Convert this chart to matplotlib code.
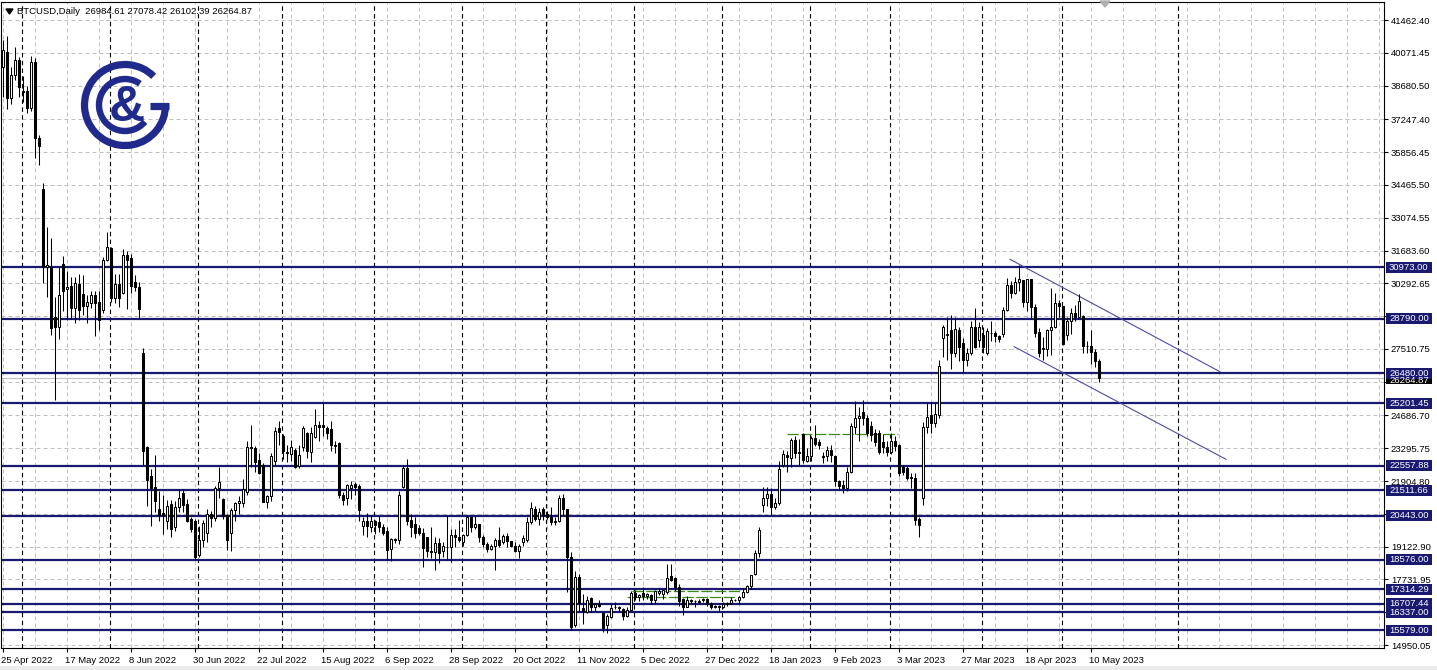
import numpy as np
import matplotlib.pyplot as plt
from matplotlib.patches import Rectangle, Arc, Polygon
from matplotlib import transforms

# ---- data (one line = one trading week, Mon..Fri) ----
opens = [
    39450, 40100, 38150, 39150, 39750,
    38450, 38450, 37750, 39700, 36450,
    34300, 31000, 31000, 28850, 28450,
    31100, 30050, 30200, 29250, 30250,
    29850, 29350, 29450, 29800, 29500,
    29150, 31300, 31800, 29650, 30250,
    29900, 31500, 31350, 30350, 30150,
    27350, 23350, 22100, 21650, 20700,
    20550, 20200, 20950, 19950, 20800,
    21400, 20950, 20300, 20200, 18750,
    19400, 19710, 20500, 20320, 21600,
    21130, 20460, 19690, 20680, 20960,
    20960, 21450, 23360, 23290, 22800,
    22590, 21030, 21250, 22770, 24140,
    23820, 23150, 23050, 23220, 22560,
    23360, 23960, 23150, 23790, 24280,
    24280, 24140, 24100, 23430, 23500,
    21310, 21170, 21600, 21780, 21690,
    20000, 20230, 19940, 20220, 20150,
    19940, 19800, 19010, 19400, 19400,
    21670, 22440, 20250, 20080, 19900,
    19720, 19540, 18950, 18910, 19260,
    18950, 19120, 19090, 19620, 19550,
    19300, 19620, 20390, 19970, 20080,
    19520, 19230, 19020, 19150, 19400,
    19330, 19560, 19350, 19130, 18950,
    19300, 19400, 20180, 20700, 20300,
    20700, 20500, 20400, 20170, 20220,
    21170, 20700, 18700, 15800, 17850,
    16500, 16370, 16930, 16580, 16680,
    16290, 15800, 16150, 16550, 16580,
    16480, 16200, 16440, 17140, 17000,
    17150, 17050, 17080, 16850, 17150,
    17130, 17210, 17870, 17800, 17420,
    16900, 16580, 16880, 16800, 16830,
    16850, 16900, 16700, 16580, 16620,
    16560, 16700, 16740, 16860, 16840,
    16980, 17200, 17440, 17950, 18850,
    20890, 21170, 21350, 20790, 20960,
    22590, 23010, 22870, 23650, 23130,
    23900, 22770, 22970, 23720, 23580,
    22970, 22970, 23220, 22970, 21920,
    21740, 21600, 22300, 24210, 24570,
    24850, 24570, 24240, 23930, 23930,
    23575, 23360, 23150, 23620, 23440,
    22490, 22440, 22090, 22020, 20280,
    21170, 24210, 24710, 24350, 24710,
    27960, 28100, 28310, 27320, 28310,
    27750, 27040, 27320, 28430, 27900,
    28100, 27350, 28170, 28180, 28040,
    28140, 29160, 30220, 29900, 30360,
    30430, 29510, 30460, 29300, 28240,
    27550, 27490, 28310, 28420, 29470,
    29340, 28090, 28680, 29030, 28850,
    28900, 27650, 27620, 27400, 26984.61,
]
highs = [
    40600, 40800, 39450, 40300, 39900,
    39100, 38650, 39950, 39850, 36600,
    34550, 32700, 32200, 29700, 31000,
    31450, 30800, 30550, 30550, 30700,
    30650, 29800, 29950, 29950, 29950,
    31400, 32450, 31850, 30700, 30700,
    31750, 31650, 31550, 30650, 30350,
    27550, 23400, 22400, 23000, 21500,
    21300, 21100, 21100, 21050, 21550,
    21550, 21150, 20400, 20300, 20000,
    20250, 20700, 20650, 21700, 22520,
    21200, 20500, 20780, 21000, 21250,
    22000, 23600, 24280, 23400, 23100,
    22650, 21300, 23100, 24200, 24450,
    23900, 23450, 23650, 23300, 23450,
    24250, 24000, 24200, 24950, 24450,
    25270, 24250, 24450, 23600, 23550,
    21450, 21800, 21900, 21850, 21800,
    20400, 20550, 20450, 20250, 20420,
    20100, 19970, 19500, 19500, 21500,
    22580, 22820, 20500, 20390, 20040,
    19900, 19540, 19940, 19540, 19470,
    19330, 20460, 19850, 19850, 20250,
    19650, 20460, 20400, 20430, 20100,
    19620, 19300, 19230, 19480, 19950,
    19660, 19700, 19380, 19320, 19250,
    19600, 20400, 21020, 20850, 20750,
    20800, 20650, 20800, 20400, 21300,
    21350, 20720, 18900, 18100, 17950,
    17100, 17050, 16980, 16750, 16850,
    16300, 16250, 16700, 16780, 16620,
    16500, 16550, 17250, 17300, 17100,
    17420, 17150, 17120, 17300, 17350,
    17250, 18390, 18390, 17850, 17530,
    16950, 17050, 16900, 16880, 16900,
    16950, 16960, 16780, 16660, 16650,
    16780, 16770, 16980, 16900, 17040,
    17380, 17490, 17930, 19000, 19950,
    21640, 21640, 21600, 21200, 22750,
    23240, 23200, 23720, 23800, 23700,
    23950, 23300, 23800, 24280, 23700,
    23150, 23400, 23450, 23000, 21950,
    21950, 22500, 24350, 25310, 25050,
    25340, 24700, 24450, 24100, 24050,
    23900, 23620, 23950, 23800, 23480,
    22600, 22550, 22250, 22250, 20400,
    24400, 25270, 25270, 25200, 27040,
    28530, 28880, 28950, 28880, 28450,
    27960, 27530, 28710, 29230, 28650,
    28450, 28400, 28700, 28250, 28100,
    29300, 30500, 30400, 30550, 31070,
    30450, 30480, 30480, 29400, 28400,
    28000, 28350, 30080, 29880, 29600,
    29350, 28880, 29260, 29360, 29840,
    28950, 27830, 28320, 27490, 27078.42,
]
lows = [
    38200, 37700, 37900, 38900, 38200,
    38000, 37500, 37600, 35600, 35300,
    30300, 29700, 28100, 25350, 27950,
    29100, 28750, 28800, 28600, 28750,
    28950, 28600, 29250, 28050, 28300,
    29050, 31250, 29500, 29450, 29300,
    29850, 29200, 29900, 29950, 28800,
    22600, 20850, 20000, 20600, 20200,
    19650, 19850, 19550, 19800, 20600,
    20600, 20150, 19750, 18600, 18700,
    19100, 19300, 19950, 20200, 21200,
    20300, 19000, 18950, 20200, 20500,
    20800, 21300, 22500, 22300, 22200,
    21000, 20750, 21050, 22600, 23450,
    22850, 22700, 22750, 22450, 22450,
    23200, 22900, 22700, 23750, 23600,
    23800, 23700, 23200, 23100, 21200,
    20900, 20900, 21150, 21300, 20200,
    19600, 19550, 19750, 19650, 19750,
    19600, 18560, 18530, 19260, 19230,
    21600, 20040, 19550, 19480, 19600,
    18270, 18700, 18630, 18130, 18410,
    18700, 18550, 18480, 19120, 19300,
    19150, 19580, 19760, 19870, 19320,
    19100, 18880, 18960, 18130, 19100,
    19250, 19100, 19090, 18900, 18660,
    19150, 19300, 20080, 20200, 20050,
    20250, 20300, 20050, 20050, 20150,
    20450, 17200, 15600, 15700, 16400,
    15820, 16300, 16350, 16400, 16550,
    15500, 15450, 16100, 16460, 16350,
    16000, 16150, 16420, 16850, 16800,
    16880, 16900, 16700, 16750, 17080,
    16900, 17100, 17680, 17250, 16600,
    16220, 16550, 16700, 16560, 16760,
    16780, 16600, 16460, 16500, 16340,
    16520, 16600, 16700, 16800, 16700,
    16950, 17150, 17320, 17900, 18700,
    20610, 20830, 20420, 20700, 20880,
    22500, 22300, 22500, 22900, 22600,
    22650, 22700, 22750, 23380, 23250,
    22650, 22750, 22700, 21700, 21550,
    21400, 21500, 22250, 23900, 23600,
    24300, 23800, 23600, 23400, 23050,
    23100, 22950, 23050, 23200, 22100,
    22150, 21950, 21600, 20050, 19550,
    20900, 23930, 23930, 24200, 24600,
    27180, 27040, 26640, 27150, 27000,
    26540, 26800, 27250, 27540, 27600,
    27350, 27250, 27850, 27790, 27790,
    28000, 29100, 29650, 29850, 29950,
    29300, 29100, 28800, 28000, 27150,
    27030, 27200, 27250, 28380, 28880,
    27680, 27880, 28130, 28680, 28810,
    27320, 27350, 26870, 26750, 26102.39,
]
closes = [
    40200, 38150, 39150, 39750, 38600,
    38400, 37750, 39700, 36450, 36100,
    31000, 31050, 28400, 28450, 29800,
    29950, 30150, 29250, 30300, 29150,
    29350, 29500, 29800, 29450, 28750,
    31300, 31850, 29650, 30250, 29650,
    31500, 31300, 30200, 30150, 29200,
    23200, 21950, 21600, 21050, 20450,
    20450, 20850, 19850, 20800, 21200,
    20900, 20200, 19850, 18700, 19400,
    20110, 20500, 20320, 21600, 21880,
    20420, 19400, 20680, 20960, 21050,
    21550, 23360, 23290, 22730, 22230,
    21000, 21250, 22950, 24040, 24000,
    23190, 23080, 23360, 22520, 23010,
    24140, 23190, 23930, 24280, 24210,
    24180, 23930, 23430, 23390, 21310,
    21100, 21740, 21740, 21670, 20680,
    20230, 20000, 20220, 20040, 19950,
    19690, 18980, 19430, 19450, 21310,
    22440, 20220, 19940, 19690, 19720,
    19050, 18950, 18900, 19290, 18840,
    19150, 19100, 19620, 19520, 19400,
    19620, 20390, 19970, 20100, 19540,
    19230, 19020, 19150, 19400, 19180,
    19560, 19350, 19130, 18950, 19150,
    19480, 20180, 20750, 20300, 20600,
    20450, 20400, 20170, 20220, 21170,
    20700, 18700, 15720, 17850, 16720,
    16400, 16880, 16580, 16680, 16620,
    15660, 16180, 16500, 16580, 16500,
    16200, 16450, 17140, 17000, 17080,
    17050, 17100, 16850, 17230, 17220,
    17270, 17780, 17700, 17400, 16830,
    16580, 16880, 16800, 16830, 16790,
    16900, 16700, 16550, 16620, 16560,
    16700, 16720, 16860, 16840, 16970,
    17200, 17440, 17900, 18850, 19830,
    21170, 21350, 20790, 20960, 22400,
    23050, 22910, 23650, 23080, 23100,
    22800, 22970, 23720, 23480, 23430,
    22910, 23220, 23010, 21920, 21690,
    21600, 22300, 24240, 24570, 24680,
    24570, 23930, 23860, 23580, 23150,
    23360, 23150, 23620, 23390, 22260,
    22300, 22020, 22020, 20250, 20040,
    24180, 24640, 24350, 24750, 26790,
    28450, 28150, 27320, 28340, 27600,
    27040, 27320, 28430, 27600, 28430,
    27580, 28270, 28180, 28040, 27930,
    29160, 30220, 29900, 30360, 30470,
    29510, 30460, 29300, 28200, 27320,
    27500, 28310, 28420, 29470, 29340,
    27700, 28680, 29030, 28850, 29530,
    27650, 27620, 27400, 26980, 26264.87,
]

# bar index of date labels on the time axis
date_ticks = [0, 16, 32, 48, 64, 80, 96, 112, 128, 144, 160, 176, 192, 208, 224, 240, 256, 272]
date_labels = ["25 Apr 2022", "17 May 2022", "8 Jun 2022", "30 Jun 2022", "22 Jul 2022",
               "15 Aug 2022", "6 Sep 2022", "28 Sep 2022", "20 Oct 2022", "11 Nov 2022",
               "5 Dec 2022", "27 Dec 2022", "18 Jan 2023", "9 Feb 2023", "3 Mar 2023",
               "27 Mar 2023", "18 Apr 2023", "10 May 2023"]
# first bar of each month (period separators)
month_starts = [5, 27, 49, 70, 93, 115, 136, 158, 180, 202, 222, 245, 265, 294]

# price scale: grid levels; the ones hidden behind level boxes get no label
price_ticks = [41462.40, 40071.45, 38680.50, 37247.40, 35856.45, 34465.50, 33074.55,
               31683.60, 30292.65, 28901.70, 27510.75, 26119.80, 24686.70, 23295.75,
               21904.80, 20513.85, 19122.90, 17731.95, 16341.00, 14950.05]
hidden_ticks = [28901.70, 26119.80, 20513.85, 16341.00]

levels = [30973.00, 28790.00, 26480.00, 25201.45, 22557.88, 21511.66, 20443.00,
          18576.00, 17314.29, 16707.44, 16337.00, 15579.00]

# trend channel (bar index, price)
upper_x, upper_y = [251.75, 304.25], [31311, 26543]
lower_x, lower_y = [252.8, 305.75], [27604, 22827]
# short green dashed lines: (start bar, end bar, price)
green_lines = [(196, 223.75, 23900), (157.25, 184.25, 17240), (156, 183.5, 16986)]

NAVY = '#191970'
LOGO = '#1f2a8c'
FONT = 'Liberation Sans'
FS = 6.8

W, H = 1437, 670
opens, highs, lows, closes = map(np.array, (opens, highs, lows, closes))
x = np.arange(len(closes))

fig = plt.figure(figsize=(W / 100, H / 100), dpi=100)
ax_l, ax_r, ax_t, ax_b = 1, 1384, 2, 648
ax = fig.add_axes([ax_l / W, 1 - ax_b / H, (ax_r - ax_l) / W, (ax_b - ax_t) / H])
ax.set_xlim(-0.5, (ax_r - 3) / 4)
ymin, ymax = 14823, 42226
ax.set_ylim(ymin, ymax)
ppx = (ymax - ymin) / (ax_b - ax_t)  # price per pixel

# grid
for gx in np.arange(0, 346, 8):
    ax.axvline(gx, color='#c0c0c0', lw=0.72, ls=(0, (4, 3)), zorder=0)
for gy in price_ticks:
    ax.axhline(gy, color='#c0c0c0', lw=0.72, ls=(0, (4, 3)), zorder=0)
for m in month_starts:
    ax.axvline(m - 0.25, color='black', lw=0.8, ls=(0, (4, 3)), zorder=1)

# support / resistance levels
for lv in levels:
    ax.axhline(lv, color=NAVY, lw=1.6, zorder=2)
ax.axhline(closes[-1], color='#c0c0c0', lw=0.8, zorder=2)

for gx0, gx1, gp in green_lines:
    ax.plot([gx0, gx1], [gp, gp], color='#3c8c14', lw=0.9, ls=(0, (9, 2)), zorder=2)

ax.plot(upper_x, upper_y, color='#4c4ca8', lw=0.8, zorder=2)
ax.plot(lower_x, lower_y, color='#4c4ca8', lw=0.8, zorder=2)

# candles
ax.vlines(x, lows, highs, color='black', lw=0.75, zorder=3)
up = closes >= opens
blo = np.minimum(opens, closes)
bh = np.abs(closes - opens)
ax.bar(x[up], bh[up], bottom=blo[up], width=0.5, facecolor='white',
       edgecolor='black', linewidth=0.75, zorder=4)
ax.bar(x[~up], bh[~up], bottom=blo[~up], width=0.5, facecolor='black',
       edgecolor='black', linewidth=0.75, zorder=4)

# axes cosmetics
for s in ax.spines.values():
    s.set_linewidth(0.8)
    s.set_color('black')
ax.yaxis.tick_right()
ax.set_yticks(price_ticks)
ax.set_yticklabels(["" if v in hidden_ticks else f"{v:.2f}" for v in price_ticks],
                   fontsize=FS, family=FONT)
ax.set_xticks(date_ticks)
ax.set_xticklabels(date_labels, fontsize=FS, family=FONT, ha='left')
ax.tick_params(axis='both', length=3, width=0.8, pad=2, colors='black')
ax.xaxis.set_tick_params(pad=3)
offset = transforms.ScaledTranslation(-2 / 100, 0, fig.dpi_scale_trans)
for lab in ax.get_xticklabels():
    lab.set_transform(lab.get_transform() + offset)

# price-scale boxes
axp = fig.add_axes([ax_r / W, 1 - ax_b / H, (W - ax_r) / W, (ax_b - ax_t) / H])
axp.set_xlim(0, W - ax_r)
axp.set_ylim(ymin, ymax)
axp.axis('off')
box_h = 11 * ppx
axp.add_patch(Rectangle((2, closes[-1] - box_h / 2), 46, box_h, facecolor='black', edgecolor='none'))
axp.text(5, closes[-1] - 2 * ppx, f"{closes[-1]:.2f}", color='white', fontsize=FS,
         family=FONT, va='center')
for lv in levels:
    axp.add_patch(Rectangle((2, lv - box_h / 2), 46, box_h, facecolor=NAVY, edgecolor='none'))
    axp.text(5, lv, f"{lv:.2f}", color='white', fontsize=FS, family=FONT, va='center')

# overlay in pixel coordinates: header, logo
ov = fig.add_axes([0, 0, 1, 1])
ov.set_xlim(0, W)
ov.set_ylim(H, 0)
ov.axis('off')
ov.add_patch(Polygon([[6, 9], [13, 9], [9.5, 14]], closed=True, color='black'))
ov.text(17, 12, f"BTCUSD,Daily  {opens[-1]:.2f} {highs[-1]:.2f} {lows[-1]:.2f} {closes[-1]:.2f}",
        fontsize=FS, family=FONT, va='center')
ov.add_patch(Polygon([[1100, 1], [1110, 1], [1105, 7]], closed=True, color='#b0b0b0'))
ov.add_patch(Rectangle((0, 666), W, 4, facecolor='#ececec', edgecolor='none'))

cx, cy = 125, 105
ov.add_patch(Arc((cx, cy), 81, 81, theta1=0, theta2=315, lw=5.2, color=LOGO))
ov.add_patch(Arc((cx, cy), 52, 52, theta1=40, theta2=305, lw=4.6, color=LOGO))
ov.plot([150, 169], [105.5, 105.5], color=LOGO, lw=5.2, solid_capstyle='butt')
ov.text(127, 121, '&', fontsize=36, fontweight='bold', family=FONT, color=LOGO,
        ha='center', va='baseline')

fig.savefig('out.png', dpi=100, facecolor='white')
